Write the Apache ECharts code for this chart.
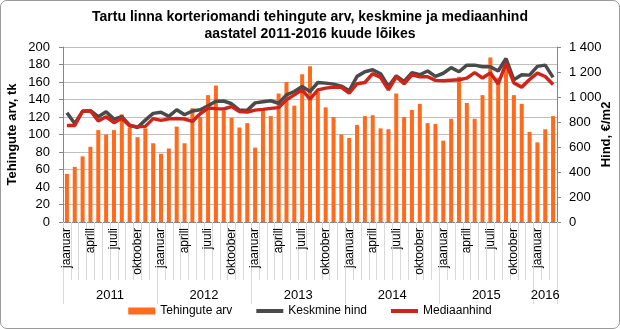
<!DOCTYPE html>
<html><head><meta charset="utf-8">
<script src="https://cdn.jsdelivr.net/npm/echarts@6/dist/echarts.min.js"></script>
<style>
html,body{margin:0;padding:0;background:#fff;}
#c{width:620px;height:329px;box-sizing:border-box;border:1px solid #9a9a9a;border-radius:7px;}
</style></head><body>
<div id="c"></div>
<script>
// ---- data ----
const years = ['2011','2012','2013','2014','2015','2016'];
const monthsPerYear = [12,12,12,12,12,3];
const monthNames = ['jaanuar','veebruar','märts','aprill','mai','juuni','juuli','august','september','oktoober','november','detsember'];
const yearLabelIndex = [6,18,30,42,54,61];
const leftTicks = [0,20,40,60,80,100,120,140,160,180,200];
const rightTicks = [0,200,400,600,800,1000,1200,1400];

const tehingud = [
  55,63,75,86,105,100,105,123,108,97,107,90,
  78,84,109,90,130,120,145,156,127,119,108,113,
  85,128,121,147,160,133,169,178,149,131,120,100,
  96,111,121,122,107,106,147,120,128,135,113,112,
  93,118,166,136,118,145,188,165,184,145,135,103,
  91,106,121
];
const keskmine = [
  874,788,885,890,842,882,823,842,775,756,815,869,
  878,845,898,858,888,898,930,966,968,946,896,893,
  953,962,970,950,1017,1044,1084,1044,1116,1111,1103,1087,
  1050,1165,1202,1218,1186,1084,1169,1124,1195,1178,1208,1165,
  1190,1235,1202,1255,1255,1242,1242,1208,1308,1138,1178,1175,
  1245,1255,1157
];
const mediaan = [
  772,772,888,890,809,842,795,830,769,762,765,827,
  813,825,828,824,805,866,912,907,904,923,883,880,
  895,901,909,915,977,1017,1057,982,1057,1071,1079,1077,
  1031,1106,1116,1187,1157,1057,1162,1106,1178,1162,1162,1133,
  1130,1134,1138,1151,1195,1152,1193,1104,1271,1113,1079,1140,
  1191,1164,1100
];

// ---- build categories ----
const cats = [], catYear = [];
years.forEach((y, yi) => {
  for (let m = 0; m < monthsPerYear[yi]; m++) { cats.push(monthNames[m]); catYear.push(y); }
});

const FONT = 'Liberation Sans';
const chart = echarts.init(document.getElementById('c'), null, {renderer:'canvas'});
chart.setOption({
  animation:false,
  textStyle:{fontFamily:FONT},
  title:{
    text:'Tartu linna korteriomandi tehingute arv, keskmine ja mediaanhind\naastatel 2011-2016 kuude lõikes',
    left:'center', top:3,
    textStyle:{fontFamily:FONT,fontSize:14,fontWeight:'bold',color:'#000',lineHeight:17}
  },
  legend:{
    bottom:6, left:'center', itemWidth:27, itemHeight:7, itemGap:22,
    textStyle:{fontFamily:FONT,fontSize:12,color:'#000'},
    data:[
      {name:'Tehingute arv',icon:'rect'},
      {name:'Keskmine hind',itemStyle:{opacity:0},lineStyle:{width:4}},
      {name:'Mediaanhind',itemStyle:{opacity:0},lineStyle:{width:4}}
    ]
  },
  grid:{left:62,right:62,top:46,bottom:106,containLabel:false,outerBoundsMode:'none'},
  xAxis:[{
    type:'category', data:cats, boundaryGap:true,
    axisLine:{show:true,lineStyle:{color:'#868686',width:1}},
    axisTick:{show:true,interval:0,length:58,lineStyle:{color:'#d9d9d9'}},
    axisLabel:{interval:2,rotate:90,fontSize:12,color:'#000',margin:6,fontFamily:FONT},
    splitLine:{show:false}
  },{
    type:'category', data:catYear, boundaryGap:true, position:'bottom',
    axisLine:{show:false},
    axisTick:{show:true,interval:function(i){return i%12===0;},length:82,lineStyle:{color:'#d9d9d9'}},
    axisLabel:{
      interval:function(i){return yearLabelIndex.indexOf(i)>=0;},
      margin:67, fontSize:13, color:'#000', fontFamily:FONT,
      formatter:function(v,i){ return i===61 ? '{b|'+v+'}' : '{a|'+v+'}'; },
      rich:{a:{padding:[0,8,0,0],fontSize:13,fontFamily:FONT,color:'#000'},b:{fontSize:13,fontFamily:FONT,color:'#000'}}
    },
    splitLine:{show:false}
  }],
  yAxis:[{
    type:'value', min:leftTicks[0], max:leftTicks[leftTicks.length-1], interval:20,
    name:'Tehingute arv, tk', nameLocation:'middle', nameGap:44, nameRotate:90, nameMoveOverlap:false,
    nameTextStyle:{fontFamily:FONT,fontSize:13,fontWeight:'bold',color:'#000'},
    axisLine:{show:true,lineStyle:{color:'#868686'}},
    axisTick:{show:true,length:4,lineStyle:{color:'#868686'}},
    axisLabel:{fontSize:13,color:'#000',margin:13,fontFamily:FONT},
    splitLine:{show:true,lineStyle:{color:'#bfbfbf',width:1}}
  },{
    type:'value', min:rightTicks[0], max:rightTicks[rightTicks.length-1], interval:200,
    name:'Hind, €/m2', nameLocation:'middle', nameGap:43, nameRotate:90, nameMoveOverlap:false,
    nameTextStyle:{fontFamily:FONT,fontSize:13,fontWeight:'bold',color:'#000'},
    axisLine:{show:true,lineStyle:{color:'#868686'}},
    axisTick:{show:true,length:4,lineStyle:{color:'#868686'}},
    axisLabel:{fontSize:13,color:'#000',margin:12,fontFamily:FONT,
      formatter:function(v){return String(v).replace(/\B(?=(\d{3})+(?!\d))/g,' ');}},
    splitLine:{show:false}
  }],
  series:[{
    name:'Tehingute arv', type:'bar', xAxisIndex:0, yAxisIndex:0, data:tehingud,
    barWidth:4, itemStyle:{color:'#ff6a1c'}
  },{
    name:'Keskmine hind', type:'line', xAxisIndex:0, yAxisIndex:1, data:keskmine,
    symbol:'none', lineStyle:{color:'#4a4a4a',width:3.5}, itemStyle:{color:'#4a4a4a'}, z:3
  },{
    name:'Mediaanhind', type:'line', xAxisIndex:0, yAxisIndex:1, data:mediaan,
    symbol:'none', lineStyle:{color:'#d0231a',width:3.5}, itemStyle:{color:'#d0231a'}, z:4
  }]
});
</script>
</body></html>
